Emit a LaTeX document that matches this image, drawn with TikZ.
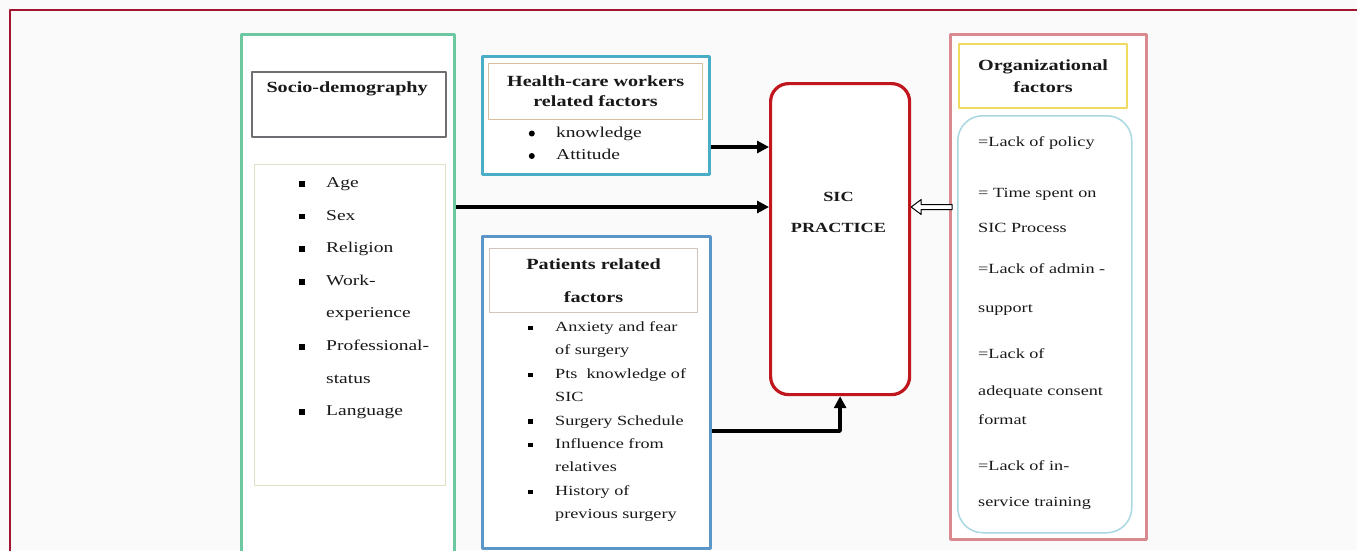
\documentclass[tikz,border=0pt]{standalone}
\usepackage{fontspec}
\setmainfont{Liberation Serif}[FakeStretch=1.3]
\usetikzlibrary{positioning,arrows.meta}
\definecolor{framered}{HTML}{A3152F}
\definecolor{socgreen}{HTML}{6DC8A2}
\definecolor{titlegray}{HTML}{6E6E73}
\definecolor{listgreen}{HTML}{DCE3C6}
\definecolor{hcwblue}{HTML}{4AADC8}
\definecolor{hcwtan}{HTML}{D8BE9C}
\definecolor{patblue}{HTML}{5B96C8}
\definecolor{pattan}{HTML}{D5C3BE}
\definecolor{sicred}{HTML}{C0161D}
\definecolor{orgpink}{HTML}{D88A8E}
\definecolor{orgyellow}{HTML}{F0DA60}
\definecolor{orgcyan}{HTML}{A8D8E2}
\tikzset{
  box/.style={draw, fill=white, inner sep=0pt, anchor=north west},
  item/.style={anchor=west, inner sep=0pt, text height=10pt, text depth=3pt, text=black!90, font=\fontsize{15}{18}\selectfont},
  smitem/.style={item, font=\fontsize{14}{17}\selectfont},
  headtxt/.style={align=center, text=black!90, font=\fontsize{15.5}{20}\selectfont\bfseries},
  sqbul/.style={fill=black, minimum size=5.5pt, inner sep=0pt},
  rdbul/.style={circle, fill=black, minimum size=6pt, inner sep=0pt},
  conn/.style={line width=3.4pt, -{Triangle[length=12pt,width=12pt]}}
}
\begin{document}
\begin{tikzpicture}[x=1pt, y=-1pt, line join=round]
\useasboundingbox (0,0) rectangle (1357,550);
\clip (0,0) rectangle (1357,550);
\fill[black!2] (0,0) rectangle (1357,550);
\draw[framered, line width=1.2pt] (1360,10) -| (10,560);

\node[box, draw=socgreen, line width=3pt, minimum width=213, minimum height=580] (soc) at (240,33) {};
\node[box, draw=titlegray, line width=1.5pt, minimum width=194, minimum height=65] (socT) at (251,71) {};
\node[headtxt, anchor=west] (socH) at (263,89) {Socio-demography};
\node[box, draw=listgreen, line width=1.2pt, minimum width=191, minimum height=321] (socL) at (254,164) {};
\foreach \t [count=\i] in {Age,Sex,Religion,Work-,experience,Professional-,status,Language}
  \node[item] (s\i) at (326,151.4+32.6*\i) {\t};
\foreach \i in {1,2,3,4,6,8} \node[sqbul, left=21pt of s\i] (sb\i) {};

\node[box, draw=hcwblue, line width=2.6pt, minimum width=227, minimum height=118] (hcw) at (481,55) {};
\node[box, draw=hcwtan, line width=1.2pt, minimum width=214, minimum height=56, headtxt] (hcwT) at (488,63) {Health-care workers\\related factors};
\foreach \t [count=\i] in {knowledge,Attitude}
  \node[item] (h\i) at (556,111+22.5*\i) {\t};
\foreach \i in {1,2} \node[rdbul, left=21pt of h\i] (hb\i) {};

\node[box, draw=patblue, line width=2.6pt, minimum width=228, minimum height=312] (pat) at (481,235) {};
\node[box, draw=pattan, line width=1.2pt, minimum width=208, minimum height=64, headtxt] (patT) at (489,248) {Patients related\\[13pt]factors};
\foreach \t [count=\i] in {Anxiety and fear,of surgery,Pts\ \ knowledge of,SIC,Surgery Schedule,Influence from,relatives,History of,previous surgery}
  \node[smitem] (p\i) at (555,304.6+23.4*\i) {\t};
\foreach \i in {1,3,5,6,8} \node[sqbul, minimum size=4.5pt, left=22pt of p\i] (pb\i) {};

\node[box, draw=sicred, line width=3.2pt, rounded corners=18pt, minimum width=139, minimum height=311] (sic) at (769,82) {};
\node[headtxt, font=\fontsize{14}{18}\selectfont\bfseries] (sicT) at (838.5,212) {SIC\\[13pt]PRACTICE};

\node[box, draw=orgpink, line width=3pt, minimum width=196, minimum height=505] (org) at (949,33) {};
\node[box, draw=orgyellow, line width=2pt, minimum width=168, minimum height=64, headtxt, font=\fontsize{15.5}{22}\selectfont\bfseries] (orgT) at (958,43) {Organizational\\factors};
\node[box, draw=orgcyan, line width=1.5pt, rounded corners=25pt, minimum width=174, minimum height=417] (orgL) at (957,115) {};
\foreach \y/\t [count=\i] in {143/=Lack of policy,194/= Time spent on,229/SIC Process,270/=Lack of admin -,309/support,355/=Lack of,392/adequate consent,421/format,467/=Lack of in-,503/service training}
  \node[smitem] (o\i) at (978,\y) {\t};

\coordinate (a1) at (0,147);
\coordinate (a2) at (0,207);
\coordinate (a3) at (0,431);
\draw[conn] (hcw.east |- a1) -- (sic.west |- a1);
\draw[conn] (soc.east |- a2) -- (sic.west |- a2);
\draw[conn] (pat.east |- a3) -| (sic.south);
\draw[line width=1pt, fill=white] (sic.east |- a2) -- ++(10,-7.5) -- ++(0,5) -- ++(31,0) -- ++(0,5) -- ++(-31,0) -- ++(0,5) -- cycle;
\end{tikzpicture}
\end{document}
